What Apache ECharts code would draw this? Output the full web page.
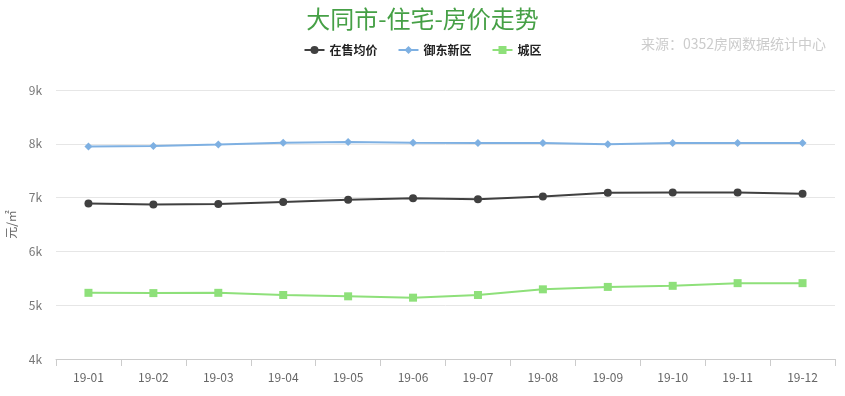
<!DOCTYPE html>
<html><head><meta charset="utf-8">
<script src="https://cdn.jsdelivr.net/npm/echarts@6/dist/echarts.min.js"></script>
<style>html,body{margin:0;padding:0;background:#fff}#c{width:845px;height:396px}</style>
</head><body><div id="c"></div>
<script>
const categories = ['19-01','19-02','19-03','19-04','19-05','19-06','19-07','19-08','19-09','19-10','19-11','19-12'];
const onSale = [6890, 6870, 6880, 6920, 6960, 6990, 6970, 7020, 7090, 7095, 7095, 7070];
const yudong = [7950, 7960, 7985, 8020, 8035, 8020, 8015, 8015, 7990, 8015, 8015, 8015];
const city = [5230, 5225, 5230, 5190, 5165, 5140, 5190, 5295, 5340, 5360, 5410, 5410];
const seriesNames = ['在售均价', '御东新区', '城区'];
const chart = echarts.init(document.getElementById('c'));
const font = '"Microsoft YaHei","Noto Sans CJK SC",sans-serif';
chart.setOption({
  animation: false,
  textStyle: {fontFamily: font},
  title: [{
    text: '大同市-住宅-房价走势', left: 'center', top: 2,
    textStyle: {color: '#46a046', fontSize: 24, fontWeight: 'normal', fontFamily: font}
  }, {
    text: '来源：0352房网数据统计中心', right: 14, top: 32,
    textStyle: {color: '#cccccc', fontSize: 14, fontWeight: 'normal', fontFamily: font}
  }],
  legend: {
    top: 39, left: 'center', itemGap: 20, itemWidth: 20, itemHeight: 10,
    textStyle: {color: '#222', fontSize: 12, fontWeight: 'bold', fontFamily: font},
    data: seriesNames
  },
  grid: {left: 56, right: 10, top: 90, bottom: 37, outerBoundsMode: 'none'},
  xAxis: {
    type: 'category', data: categories, boundaryGap: true,
    axisLine: {lineStyle: {color: '#ccc'}},
    axisTick: {show: true, length: 7, lineStyle: {color: '#ccc'}},
    axisLabel: {color: '#666', fontSize: 12, margin: 12}
  },
  yAxis: {
    type: 'value', min: 4000, max: 9000, interval: 1000,
    name: '元/㎡', nameLocation: 'middle', nameGap: 34, nameRotate: 90,
    nameTextStyle: {color: '#666', fontSize: 12},
    axisLine: {show: false}, axisTick: {show: false},
    axisLabel: {color: '#777', fontSize: 12, margin: 14, formatter: v => (v / 1000) + 'k'},
    splitLine: {lineStyle: {color: '#e6e6e6'}}
  },
  series: [
    {name: seriesNames[0], type: 'line', data: onSale, symbol: 'circle', symbolSize: 8,
     itemStyle: {color: '#404040'}, lineStyle: {width: 2, color: '#404040'}},
    {name: seriesNames[1], type: 'line', data: yudong, symbol: 'diamond', symbolSize: 8,
     itemStyle: {color: '#7eb0e2'}, lineStyle: {width: 2, color: '#7eb0e2'}},
    {name: seriesNames[2], type: 'line', data: city, symbol: 'rect', symbolSize: 8,
     itemStyle: {color: '#8ee07a'}, lineStyle: {width: 2, color: '#8ee07a'}}
  ]
});
</script></body></html>
